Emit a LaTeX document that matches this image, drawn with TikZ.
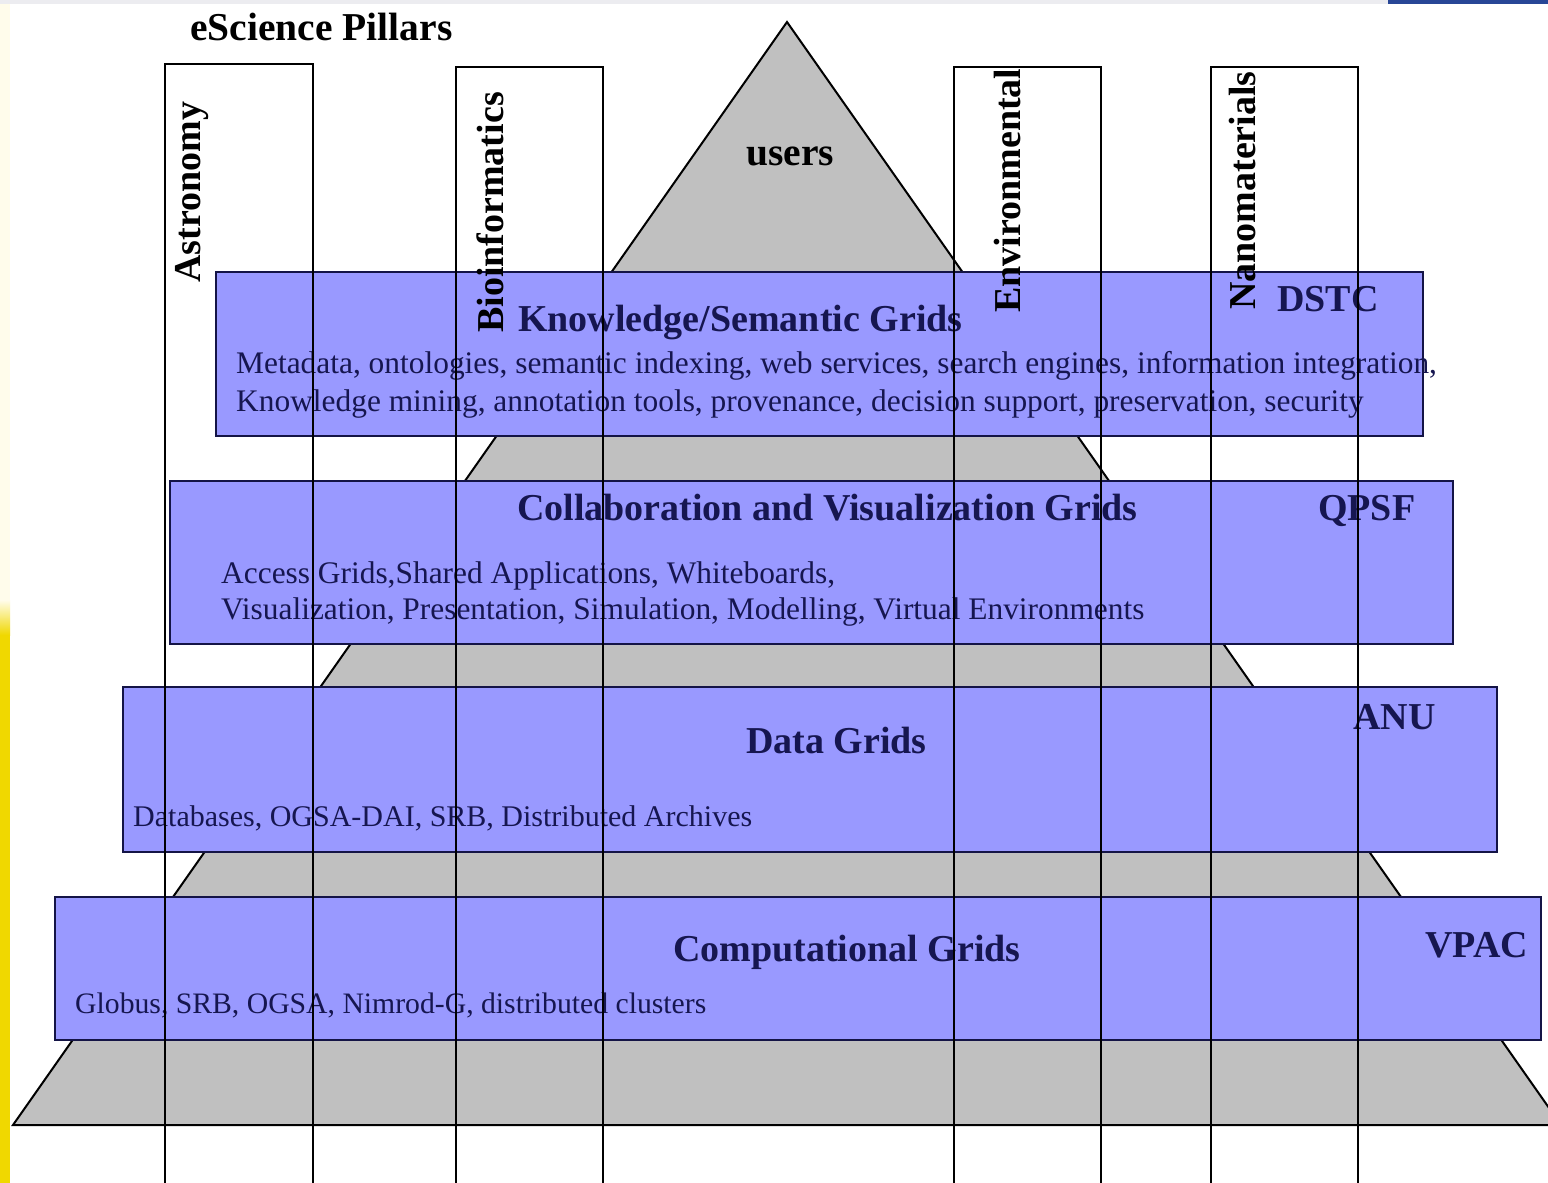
\documentclass[tikz,border=0pt]{standalone}
\usepackage{fontspec}
\setmainfont{Liberation Serif}
\definecolor{boxblue}{RGB}{153,153,255}
\definecolor{boxline}{RGB}{20,20,70}
\definecolor{boxtext}{RGB}{22,22,80}
\definecolor{pyrgray}{RGB}{192,192,192}
\definecolor{edgeyellow}{RGB}{240,216,0}
\definecolor{edgecream}{RGB}{255,252,235}
\definecolor{topblue}{RGB}{40,70,150}
\definecolor{topgray}{RGB}{236,236,240}
\begin{document}
\begin{tikzpicture}[x=1pt,y=-1pt,
  gridbox/.style={draw=boxline, line width=2pt, fill=boxblue, inner sep=0pt},
  pillar/.style={draw=black, line width=2pt, inner sep=0pt},
  head/.style={font=\fontsize{38}{40}\selectfont\bfseries, text=boxtext, inner sep=0pt, anchor=base west},
  body/.style={font=\fontsize{30}{38}\selectfont, text=boxtext, inner sep=0pt, anchor=base west},
  bodywide/.style={body, font=\fontsize{31.4}{38}\selectfont},
  plabel/.style={font=\fontsize{38}{40}\selectfont\bfseries, text=black, inner sep=0pt, anchor=base west, rotate=90},
  title/.style={font=\fontsize{39.5}{42}\selectfont\bfseries, text=black, inner sep=0pt, anchor=base west},
]
\useasboundingbox (0,0) rectangle (1548,1183);
\clip (0,0) rectangle (1548,1183);
\fill[white] (0,0) rectangle (1548,1183);
% frame decorations
\fill[edgecream] (0,0) rectangle (10,600);
\fill[edgeyellow] (0,635) rectangle (10,1183);
\shade[top color=edgecream, bottom color=edgeyellow] (0,600) rectangle (10,635);
\fill[topgray] (0,0) rectangle (1548,4);
\fill[topblue] (1388,0) rectangle (1548,4);

% pyramid
\coordinate (apex) at (787,22);
\coordinate (bl) at (13,1125);
\coordinate (br) at (1561,1125);
\filldraw[fill=pyrgray, draw=black, line width=2pt] (apex) -- (bl) -- (br) -- cycle;
\node[title] (users) at (746,165) {users};
\node[title] (ttl) at (190,40) {eScience Pillars};

% grid layers
\node[gridbox, minimum width=1207pt, minimum height=164pt] (kbox) at (819.5,354) {};
\node[gridbox, minimum width=1283pt, minimum height=163pt] (cbox) at (811.5,562.5) {};
\node[gridbox, minimum width=1374pt, minimum height=165pt] (dbox) at (810,769.5) {};
\node[gridbox, minimum width=1486pt, minimum height=143pt] (gbox) at (798,968.5) {};

\node[head] (khead) at (518,331) {Knowledge/Semantic Grids};
\node[head] (korg) at (1277,311) {DSTC};
\node[bodywide] (kl1) at (236,373) {Metadata, ontologies, semantic indexing, web services, search engines, information integration,};
\node[bodywide] (kl2) at (236,411) {Knowledge mining, annotation tools, provenance, decision support, preservation, security};

\node[head] (chead) at (517,520) {Collaboration and Visualization Grids};
\node[head] (corg) at (1318,520) {QPSF};
\node[bodywide] (cl1) at (221,583) {Access Grids,Shared Applications, Whiteboards,};
\node[bodywide] (cl2) at (221,619) {Visualization, Presentation, Simulation, Modelling, Virtual Environments};

\node[head] (dhead) at (746,753) {Data Grids};
\node[head] (dorg) at (1353,729) {ANU};
\node[body] (dl1) at (133,826) {Databases, OGSA-DAI, SRB, Distributed Archives};

\node[head] (ghead) at (673,961) {Computational Grids};
\node[head] (gorg) at (1425,957) {VPAC};
\node[body, font=\fontsize{29.7}{38}\selectfont] (gl1) at (75,1013) {Globus, SRB, OGSA, Nimrod-G, distributed clusters};

% pillars
\node[pillar, minimum width=148pt, minimum height=1140pt, anchor=north west] (pa) at (164,63) {};
\node[pillar, minimum width=147pt, minimum height=1140pt, anchor=north west] (pb) at (455,66) {};
\node[pillar, minimum width=147pt, minimum height=1140pt, anchor=north west] (pe) at (953,66) {};
\node[pillar, minimum width=147pt, minimum height=1140pt, anchor=north west] (pn) at (1210,66) {};
\node[plabel] (la) at (200,283) {Astronomy};
\node[plabel] (lb) at (503,333) {Bioinformatics};
\node[plabel] (le) at (1020,313) {Environmental};
\node[plabel] (ln) at (1255,310) {Nanomaterials};
\end{tikzpicture}
\end{document}
